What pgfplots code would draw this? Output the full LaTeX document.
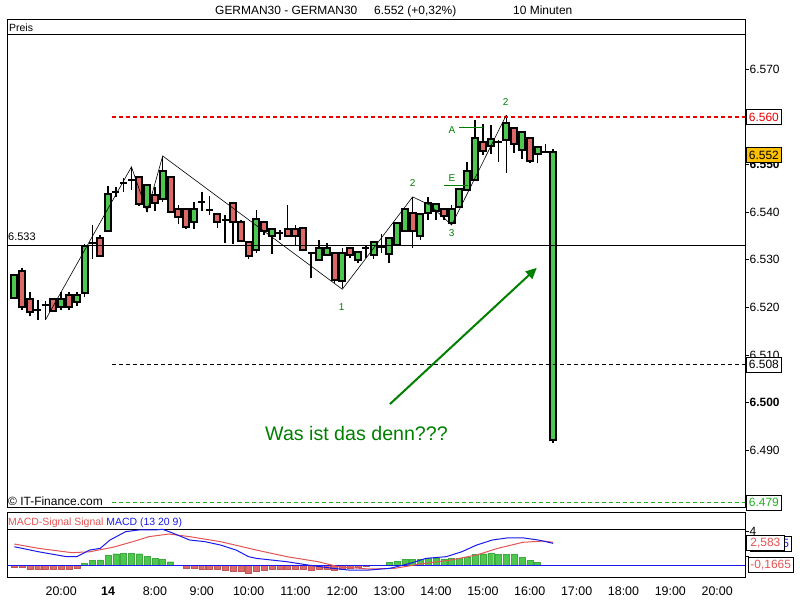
\documentclass[border=0pt]{standalone}
\usepackage{pgfplots}
\usepackage{pgfplotstable}
\pgfplotsset{compat=1.18}
\usepackage{fontspec}
\setmainfont{Liberation Sans}
\usetikzlibrary{arrows.meta}

\definecolor{candleup}{RGB}{77,199,77}
\definecolor{candledown}{RGB}{222,104,104}
\definecolor{annot}{RGB}{0,128,0}
\definecolor{levelred}{RGB}{235,0,0}
\definecolor{levelgreen}{RGB}{34,176,34}
\definecolor{lastprice}{RGB}{255,192,0}
\definecolor{macdblue}{RGB}{25,25,235}
\definecolor{macdred}{RGB}{228,84,84}

\newcommand{\fs}[1]{\fontsize{#1}{#1}\selectfont}

% 10-minute candles: index, open, high, low, close
\pgfplotstableread{
i O H L C
0 6522.2 6526.5 6522.2 6526.5
6 6520.4 6523.3 6519.5 6521.7
8 6521.4 6523.3 6520.4 6522.5
9 6523.2 6533.3 6522.2 6532.7
12 6536.3 6545.5 6536.3 6543.6
17 6541.4 6545.6 6540.1 6545.6
19 6543.2 6551.6 6542.2 6548.5
23 6538.2 6542.2 6536.5 6540.5
31 6532.4 6540.5 6531.4 6538.4
33 6535.4 6536.4 6531.4 6536.4
39 6530.2 6534.2 6530.2 6532.4
40 6531.4 6533.6 6531.4 6532.4
42 6525.8 6532.4 6524.0 6531.4
44 6530.1 6531.5 6529.4 6531.5
46 6531.4 6533.6 6530.3 6533.6
48 6531.4 6534.5 6529.4 6534.5
49 6533.5 6537.7 6533.5 6537.7
50 6536.3 6540.5 6536.3 6540.5
52 6535.4 6539.4 6534.2 6539.4
53 6540.0 6543.2 6538.4 6541.7
54 6540.5 6541.5 6538.4 6541.5
56 6538.0 6541.5 6537.3 6540.5
57 6541.3 6544.7 6541.3 6544.7
58 6545.0 6550.6 6545.0 6548.5
59 6547.1 6559.4 6547.1 6555.5
61 6554.3 6558.5 6552.4 6555.4
63 6555.3 6560.4 6548.4 6558.5
65 6553.2 6556.6 6551.3 6556.6
67 6552.4 6553.4 6550.4 6553.4
69 6492.3 6553.4 6491.5 6552.5
}\upcandles

\pgfplotstableread{
i O H L C
1 6527.5 6528.4 6519.5 6520.4
2 6521.6 6523.3 6518.3 6519.2
5 6521.7 6521.7 6519.1 6519.5
7 6522.5 6523.3 6519.5 6520.4
11 6534.5 6535.4 6531.2 6531.2
16 6547.4 6547.4 6541.5 6542.1
18 6543.5 6545.3 6540.3 6542.2
20 6547.4 6547.4 6540.3 6540.3
21 6540.5 6541.5 6537.5 6539.3
22 6540.5 6540.5 6536.6 6537.2
26 6539.4 6539.4 6536.6 6538.2
28 6541.7 6541.7 6533.5 6538.2
29 6537.8 6538.4 6534.2 6534.2
30 6533.6 6533.6 6530.3 6531.2
32 6537.7 6537.7 6535.2 6536.4
35 6536.4 6541.5 6535.4 6535.4
36 6536.4 6537.5 6533.3 6535.4
37 6536.5 6536.5 6532.3 6532.3
41 6531.4 6531.4 6525.1 6526.1
43 6532.5 6532.5 6530.3 6531.4
51 6539.6 6543.2 6532.4 6536.3
55 6540.5 6540.5 6538.4 6539.4
60 6554.6 6558.5 6552.0 6553.2
64 6557.5 6557.5 6552.4 6554.5
66 6555.4 6555.4 6550.4 6551.0
}\downcandles

\pgfplotstableread{
i O H L C
3 6519.5 6521.6 6517.4 6519.5
4 6520.5 6521.3 6517.4 6520.5
10 6533.5 6537.5 6530.4 6533.5
13 6544.2 6545.3 6543.2 6544.2
14 6546.1 6547.4 6544.3 6546.1
15 6546.8 6549.5 6544.7 6546.8
24 6542.2 6544.3 6540.3 6542.2
25 6540.5 6543.4 6539.4 6540.5
27 6538.4 6539.4 6533.5 6538.4
34 6535.6 6536.3 6534.2 6535.6
38 6531.4 6531.4 6526.3 6531.4
45 6532.4 6533.3 6530.5 6532.4
47 6532.6 6535.4 6531.4 6532.6
62 6554.7 6555.2 6550.6 6554.7
68 6552.7 6554.5 6552.7 6552.7
}\dojicandles

% MACD histogram, negative and positive bars
\pgfplotstableread{
x y
0 -0.24
1 -0.31
2 -0.55
3 -0.55
4 -0.55
5 -0.47
6 -0.55
7 -0.47
8 -0.39
22 -0.35
23 -0.35
24 -0.47
25 -0.47
26 -0.55
27 -0.63
28 -0.70
29 -0.75
30 -1.02
31 -0.70
32 -0.63
33 -0.55
34 -0.55
35 -0.55
36 -0.55
37 -0.55
38 -0.63
39 -0.55
40 -0.47
41 -0.63
42 -0.47
43 -0.39
44 -0.31
45 -0.16
}\histneg

\pgfplotstableread{
x y
9 0.16
10 0.55
11 0.60
12 1.10
13 1.33
14 1.41
15 1.41
16 1.33
17 1.02
18 0.75
19 0.70
20 0.39
48 0.31
49 0.43
50 0.63
51 0.63
52 0.63
53 0.75
54 0.82
55 0.71
56 0.82
57 0.82
58 0.94
59 1.22
60 1.33
61 1.41
62 1.22
63 1.22
64 1.22
65 0.94
66 0.55
67 0.31
}\histpos

% MACD (13 20 9) line and its signal line
\pgfplotstableread{
x y
0.0 2.15
3.1 1.56
6.7 0.98
8.0 0.98
9.65 1.76
11.0 1.96
12.25 2.94
14.25 3.92
15.9 4.12
17.86 4.12
19.0 4.20
20.17 3.80
22.46 2.94
24.4 2.75
26.4 2.35
28.4 1.76
30.0 0.98
31.0 0.78
34.9 0.39
37.6 0.00
40.8 -0.39
42.8 -0.59
45.4 -0.59
48.1 -0.39
50.7 0.20
52.7 0.78
55.3 0.98
57.3 1.56
59.2 2.35
61.2 2.94
63.2 3.20
65.1 3.20
67.1 2.94
69.0 2.55
}\macdline

\pgfplotstableread{
x y
0.0 2.47
3.1 1.96
7.4 1.45
9.65 1.56
12.6 2.08
15.2 2.75
17.2 3.33
19.8 3.65
22.5 3.33
26.4 2.75
31.0 1.76
34.9 0.98
38.9 0.39
41.5 -0.20
45.4 -0.47
48.7 -0.39
52.0 0.12
55.9 0.59
59.2 1.18
61.9 1.96
65.1 2.67
67.8 2.82
69.0 2.67
}\signalline

\pgfplotsset{
  wickbars/.style={forget plot, draw=none, mark=none,
    error bars/.cd, y dir=both, y explicit, error mark=none,
    error bar style={draw=black, line width=1.6bp}},
  bodybars/.style 2 args={forget plot, draw=none, mark=none,
    error bars/.cd, y dir=both, y explicit, error mark=none,
    error bar style={draw=#1, line width=#2}},
}

\begin{document}
\begin{tikzpicture}

% ---------------- price panel ----------------
\begin{axis}[
  at={(7bp,92bp)}, anchor=south west, scale only axis,
  width=738bp, height=488bp,
  xmin=-0.935, xmax=93.56, ymin=6477.87, ymax=6580.35,
  axis line style={black, line width=1bp},
  xtick=\empty,
  ytick={6490,6500,6510,6520,6530,6540,6550,6560,6570},
  yticklabels={6.490,\textbf{6.500},6.510,6.520,6.530,6.540,\textbf{6.550},6.560,6.570},
  ytick pos=right, tick align=outside, major tick length=3.5bp,
  tick style={black, line width=0.8bp},
  yticklabel style={font=\fs{12}, anchor=west, inner sep=0pt, xshift=1bp},
]
% header row
\draw[black, line width=1bp] (axis cs:-0.935,6577.2) -- (axis cs:93.56,6577.2);

% wicks
\addplot[wickbars] table[x=i, y expr={(\thisrow{H}+\thisrow{L})/2}, y error expr={(\thisrow{H}-\thisrow{L})/2}] {\upcandles};
\addplot[wickbars] table[x=i, y expr={(\thisrow{H}+\thisrow{L})/2}, y error expr={(\thisrow{H}-\thisrow{L})/2}] {\downcandles};
\addplot[wickbars] table[x=i, y expr={(\thisrow{H}+\thisrow{L})/2}, y error expr={(\thisrow{H}-\thisrow{L})/2}] {\dojicandles};

% bodies: black outline, then coloured fill
\addplot[bodybars={black}{8bp}] table[x=i, y expr={(\thisrow{O}+\thisrow{C})/2}, y error expr={abs(\thisrow{C}-\thisrow{O})/2+0.42}] {\upcandles};
\addplot[bodybars={black}{8bp}] table[x=i, y expr={(\thisrow{O}+\thisrow{C})/2}, y error expr={abs(\thisrow{C}-\thisrow{O})/2+0.42}] {\downcandles};
\addplot[bodybars={black}{7bp}] table[x=i, y=C, y error expr={0.19}] {\dojicandles};
\addplot[bodybars={candleup}{4bp}] table[x=i, y expr={(\thisrow{O}+\thisrow{C})/2}, y error expr={abs(\thisrow{C}-\thisrow{O})/2}] {\upcandles};
\addplot[bodybars={candledown}{4bp}] table[x=i, y expr={(\thisrow{O}+\thisrow{C})/2}, y error expr={abs(\thisrow{C}-\thisrow{O})/2}] {\downcandles};

% horizontal levels
\addplot[black, line width=1bp] coordinates {(-0.935,6533) (93.56,6533)};
\addplot[levelred, line width=1.7bp, dash pattern=on 4bp off 3bp] coordinates {(12.5,6560) (93.56,6560)};
\addplot[black, line width=1.7bp, dash pattern=on 4bp off 3bp] coordinates {(12.5,6508) (93.56,6508)};
\addplot[levelgreen, line width=1.7bp, dash pattern=on 4bp off 3bp] coordinates {(12.5,6479) (93.56,6479)};

% swing zig-zag
\addplot[black, line width=0.6bp] coordinates {(4,6517.4) (15,6549.5) (17,6540.1) (19,6551.8) (42,6523.8) (51,6543.2) (53.2,6541.5) (56,6537.3) (63,6560.4)};
\addplot[annot, line width=1bp] coordinates {(57,6557.8) (60.05,6557.8)};
\addplot[annot, line width=1bp] coordinates {(55,6545.5) (58.1,6545.5)};

\node[annot, font=\fs{10}] at (axis cs:41.9,6520.1) {1};
\node[annot, font=\fs{10}] at (axis cs:51.0,6546.2) {2};
\node[annot, font=\fs{10}] at (axis cs:56.0,6535.7) {3};
\node[annot, font=\fs{10}] at (axis cs:62.9,6563.2) {2};
\node[annot, font=\fs{10}] at (axis cs:56.05,6557.25) {A};
\node[annot, font=\fs{10}] at (axis cs:56.05,6547.1) {E};

\draw[annot, line width=2bp, -{Triangle[length=11bp,width=10bp]}] (axis cs:48.1,6499.7) -- (axis cs:66.9,6528.3);

\coordinate (r560) at (axis cs:93.56,6560);
\coordinate (r552) at (axis cs:93.56,6552);
\coordinate (r508) at (axis cs:93.56,6508);
\coordinate (r479) at (axis cs:93.56,6479);
\end{axis}

% value boxes on the price scale
\tikzset{valbox/.style={draw=black, line width=0.8bp, fill=white, font=\fs{12}, anchor=west,
  inner xsep=2.5bp, inner ysep=0pt, minimum height=15bp}}
\node[valbox, text=levelred] at ([xshift=1bp]r560) {6.560};
\node[valbox, fill=lastprice] at ([xshift=1bp]r552) {6.552};
\node[valbox] at ([xshift=1bp]r508) {6.508};
\node[valbox, text=levelgreen] at ([xshift=1bp]r479) {6.479};

% ---------------- MACD panel ----------------
\begin{axis}[
  at={(7bp,23bp)}, anchor=south west, scale only axis,
  width=738bp, height=64bp,
  xmin=-0.935, xmax=93.56, ymin=-1.41, ymax=6.12,
  axis line style={black, line width=1bp},
  xtick={6,12,...,90},
  xticklabels={20:00,\textbf{14},8:00,9:00,10:00,11:00,12:00,13:00,14:00,15:00,16:00,17:00,18:00,19:00,20:00},
  xtick pos=bottom, xtick style={draw=none},
  xticklabel style={font=\fs{12.5}, inner sep=0pt, yshift=-6bp, anchor=north},
  ytick={1,2,4}, yticklabels={,,4},
  ytick pos=right, tick align=outside, major tick length=3.5bp,
  ytick style={black, line width=0.8bp},
  yticklabel style={font=\fs{12}, anchor=west, inner sep=0pt, xshift=1bp},
]
\draw[black, line width=1bp] (axis cs:-0.935,4.235) -- (axis cs:93.56,4.235);
\addplot[ybar, bar width=6bp, bar shift=0pt, fill=candledown, draw=candledown!85!black, line width=0.4bp] table {\histneg};
\addplot[ybar, bar width=6bp, bar shift=0pt, fill=candleup, draw=candleup!85!black, line width=0.4bp] table {\histpos};
\addplot[macdblue, line width=1bp] coordinates {(-0.935,0) (93.56,0)};
\addplot[macdred, line width=1bp] table {\signalline};
\addplot[macdblue, line width=1bp] table {\macdline};

\coordinate (mblue) at (axis cs:93.56,2.45);
\coordinate (msig) at (axis cs:93.56,2.583);
\coordinate (mzero) at (axis cs:93.56,0);
\end{axis}

\node[valbox, text=macdblue, inner xsep=2bp] at ([xshift=5bp]mblue) {2,4665};
\node[valbox, text=macdred, inner xsep=4bp] at ([xshift=1bp]msig) {2,583};
\node[valbox, text=macdred, inner xsep=2bp] at ([xshift=3bp]mzero) {-0,1665};

% texts
\node[anchor=base west, inner sep=0pt, font=\fs{12}] at (215bp,585.5bp) {GERMAN30 - GERMAN30};
\node[anchor=base west, inner sep=0pt, font=\fs{12}] at (374bp,585.5bp) {6.552 (+0,32\%)};
\node[anchor=base west, inner sep=0pt, font=\fs{12}] at (513bp,585.5bp) {10 Minuten};
\node[anchor=base west, inner sep=0pt, font=\fs{10.5}] at (9bp,568bp) {Preis};
\node[anchor=base west, inner sep=0pt, font=\fs{11}] at (8bp,359.5bp) {6.533};
\node[anchor=base west, inner sep=0pt, font=\fs{12}] at (8bp,94bp) {\textcopyright{} IT-Finance.com};
\node[anchor=base west, inner sep=0pt, font=\fs{10.5}] at (8bp,74.5bp) {\textcolor{macdred}{MACD-Signal Signal} \textcolor{macdblue}{MACD (13 20 9)}};
\node[anchor=base west, inner sep=0pt, font=\fs{19.7}, text=annot] at (265bp,159bp) {Was ist das denn???};

\pgfresetboundingbox
\path[use as bounding box] (0,0) rectangle (800bp,600bp);
\end{tikzpicture}
\end{document}
